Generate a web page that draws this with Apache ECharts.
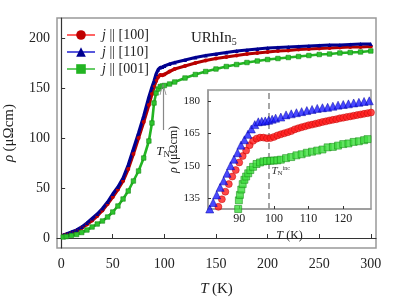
<!DOCTYPE html>
<html><head><meta charset="utf-8">
<script src="https://cdn.jsdelivr.net/npm/echarts@6/dist/echarts.min.js"></script>
<style>html,body{margin:0;padding:0;background:#fff}#c{width:395px;height:299px}</style>
</head><body><div id="c"></div>
<script>
// ---- main panel data ----
const mainT  = [2,5,10,15,20,25,30,35,40,45,50,55,60,65,70,75,80,85,88,90,92,94,96,98,100,105,110,120,130,140,150,160,170,180,190,200,210,220,230,240,250,260,270,280,290,300];
const rho100 = [2.5,3.5,5,7,10,13.5,17.5,22,27.5,34,41,48.5,57,69,84,100,116,133,144,151,157,161,163,162.8,163.5,166.5,169,172,175,177.5,179.5,181,182.5,184,185,186,187,187.5,188.5,189,189.5,190,190.5,191,191,191.5];
const rho110 = [3,4,6,8,11,15,19.5,24,29.5,36,44,51,60,73,89,105,122,141,151,157,164,168.5,170.5,171,172,174,175.5,178,180.5,182.5,184,185.5,187,188,189,190,190.5,191,191.5,192,192.5,193,193,193.5,194,194];
const rho001 = [1,1.5,2.5,3.5,5.5,8,11,14,17,21,26,32,39,47,57,67,80,97,115,135,145,149,151.5,152,152.5,154,156,160,163.5,166.5,169,171.5,173.5,175.5,177,178.5,179.5,180.5,181.5,182.5,183.5,184,185,185.5,186,187];
const mainXTicks = [0,50,100,150,200,250,300];
const mainYTicks = [0,50,100,150,200];

// ---- inset data ----
const inT110   = [81.5,82.5,83.5,84.5,85.5,86.5,87.5,88.5,89.5,90.5,91.5,92.5,93.5,94.5,95.5,96.5,97.5,98.5,99.5,100.5,102,103.5,105,106.5,108,109.5,111,112.5,114,115.5,117,118.5,120,121.5,123,124.5,126,127.5];
const inRho110 = [130,133,136.5,140,143,146.5,150,153,156,159.5,162,164.5,167,169,170.3,170.5,170.7,171,171.5,172,172.5,173.5,174,174.5,175,175.5,176,176.5,176.8,177,177.5,178,178.3,178.6,179,179.3,179.7,180];
const inT100   = [84,85,86,87,88,89,90,91,92,93,94,95,96,97,98,99,100,101,102,103,104,105,106,107,108,109,110,111,112,113,114,115,116,117,118,119,120,121,122,123,124,125,126,127,128];
const inRho100 = [131,134.5,138,141.5,145,148,151.5,154.5,157,159.5,161.5,162.5,163,163,162.7,162.8,163.3,164,164.5,165,165.5,166,166.8,167.3,167.8,168.2,168.7,169,169.4,169.8,170.2,170.5,170.9,171.2,171.5,171.9,172.2,172.5,172.8,173.1,173.4,173.7,174,174.3,174.6];
const inT001   = [89.7,89.9,90.2,90.6,91,91.5,92,92.6,93.2,94,95,96,97,98,99,100,101,102,103.5,105,106.5,108,109.5,111,112.5,114,115.5,117,118.5,120,121.5,123,124.5,126,127];
const inRho001 = [130,134,136.5,139,141.5,143.5,145,146.5,148,149.5,150.8,151.5,152,152.2,152.3,152.4,152.5,152.8,153.5,154,154.8,155.3,156,156.5,157,157.5,158.5,158.7,159.3,160,160.3,161,161.3,161.8,162.3];
const inXTicks = [90,100,110,120];
const inYTicks = [135,150,165,180];

// annotations (data units)
const tnArrow = [98.7, 108, 149];   // T, from rho, to rho
const tnIncT = 98.6;
const tnIncLabel = [99.3, 147.5];

const names = ['j || [100]','j || [110]','j || [001]'];
const FONT = 'Liberation Serif';
const pair = (xs, ys) => xs.map((x,i)=>[x, ys[i]]);

const chart = echarts.init(document.getElementById('c'), null, {renderer:'canvas'});
const axisLbl = (size)=>({fontFamily:FONT, fontSize:size, color:'#222'});
const subRich = {
  i:{fontFamily:FONT, fontStyle:'italic', fontSize:14, color:'#222'},
  n:{fontFamily:FONT, fontSize:14, color:'#222'}
};

chart.setOption({
  animation:false,
  backgroundColor:'#fff',
  title:{
    left:186, top:24,
    text:'{a|URhIn}{b|5}',
    textStyle:{fontWeight:'normal', rich:{a:{fontFamily:FONT,fontSize:15,fontWeight:'normal',color:'#222'},b:{fontFamily:FONT,fontSize:10,fontWeight:'normal',color:'#222',padding:[8,0,0,0]}}}
  },
  legend:{
    left:61, top:23, orient:'vertical', itemWidth:28, itemHeight:12, itemGap:3,
    data:[
      {name:names[0], lineStyle:{color:'#ff3030',width:1.5}, itemStyle:{color:'#c00000',borderWidth:0}},
      {name:names[1], lineStyle:{color:'#2020d0',width:1.5}, itemStyle:{color:'#000090',borderWidth:0}},
      {name:names[2], lineStyle:{color:'#66cc66',width:2}, itemStyle:{color:'#22b422',borderWidth:0}}
    ],
    formatter: n => '{i|j} {n|' + n.slice(2) + '}',
    textStyle:{rich:subRich, fontFamily:FONT, fontSize:14, padding:[0,0,0,2]}
  },
  grid:[
    {left:57, top:18, width:319, height:230, outerBoundsMode:'none', containLabel:false, show:true, borderColor:'#999', borderWidth:1.5, backgroundColor:'#fff'},
    {left:208, top:90, width:163, height:119, outerBoundsMode:'none', containLabel:false, show:true, borderColor:'#999', borderWidth:1.5, backgroundColor:'#fff', z:5}
  ],
  xAxis:[
    {gridIndex:0, type:'value', min:-4, max:305,
     name:'{i|T} {n|(K)}', nameLocation:'middle', nameGap:34,
     nameTextStyle:{rich:{i:{fontFamily:FONT,fontStyle:'italic',fontSize:15,color:'#222'},n:{fontFamily:FONT,fontSize:15,color:'#222'}}},
     axisLine:{show:true, lineStyle:{color:'#333',width:1.2}},
     axisTick:{show:true, inside:true, length:4, customValues:mainXTicks, lineStyle:{color:'#333'}},
     axisLabel:{customValues:mainXTicks, margin:9, ...axisLbl(14)},
     splitLine:{show:false}},
    {gridIndex:1, type:'value', min:81, max:128,
     name:'{i|T} {n|(K)}', nameLocation:'middle', nameGap:21,
     nameTextStyle:{rich:{i:{fontFamily:FONT,fontStyle:'italic',fontSize:12,color:'#222'},n:{fontFamily:FONT,fontSize:12,color:'#222'}}},
     axisLine:{show:true, lineStyle:{color:'#999',width:1.5}},
     axisTick:{show:true, inside:true, length:3, customValues:inXTicks, lineStyle:{color:'#333'}},
     axisLabel:{customValues:inXTicks, margin:4, ...axisLbl(12)},
     splitLine:{show:false}, z:6}
  ],
  yAxis:[
    {gridIndex:0, type:'value', min:-10, max:220,
     name:'{i|ρ} {n|(μΩcm)}', nameLocation:'middle', nameGap:40, nameRotate:90,
     nameTextStyle:{rich:{i:{fontFamily:FONT,fontStyle:'italic',fontSize:15,color:'#222'},n:{fontFamily:FONT,fontSize:15,color:'#222'}}},
     axisLine:{show:true, lineStyle:{color:'#333',width:1.2}},
     axisTick:{show:true, inside:true, length:4, customValues:mainYTicks, lineStyle:{color:'#333'}},
     axisLabel:{customValues:mainYTicks, margin:7, ...axisLbl(14)},
     splitLine:{show:false}},
    {gridIndex:1, type:'value', min:130, max:185,
     name:'{i|ρ} {n|(μΩcm)}', nameLocation:'middle', nameGap:23, nameRotate:90,
     nameTextStyle:{rich:{i:{fontFamily:FONT,fontStyle:'italic',fontSize:12,color:'#222'},n:{fontFamily:FONT,fontSize:12,color:'#222'}}},
     axisLine:{show:true, lineStyle:{color:'#999',width:1.5}},
     axisTick:{show:true, inside:true, length:3, customValues:inYTicks, lineStyle:{color:'#333'}},
     axisLabel:{customValues:inYTicks, margin:8, ...axisLbl(11)},
     splitLine:{show:false}, z:6}
  ],
  series:[
    {name:names[0], type:'line', xAxisIndex:0, yAxisIndex:0, data:pair(mainT,rho100),
     symbol:'circle', symbolSize:4, showAllSymbol:true,
     lineStyle:{color:'#b00000', width:3.2}, itemStyle:{color:'#c00000'}},
    {name:names[1], type:'line', xAxisIndex:0, yAxisIndex:0, data:pair(mainT,rho110),
     symbol:'triangle', symbolSize:4, showAllSymbol:true,
     lineStyle:{color:'#000090', width:3.2}, itemStyle:{color:'#000090'}},
    {name:names[2], type:'line', xAxisIndex:0, yAxisIndex:0, data:pair(mainT,rho001),
     symbol:'rect', symbolSize:4.5, showAllSymbol:true,
     lineStyle:{color:'#22b422', width:2.6}, itemStyle:{color:'#2ec42e', borderColor:'#178a17', borderWidth:0.6},
     markLine:{silent:true, symbol:['none','path://M5,0 L10,20 L8.8,20 L5,4 L1.2,20 L0,20 Z'], symbolSize:[7,12],
       lineStyle:{color:'#888', width:1.2, type:'solid'},
       label:{show:true, position:'start', distance:14,
         formatter:'{t|T}{s|N}',
         rich:{t:{fontFamily:FONT,fontStyle:'italic',fontSize:13,color:'#222'},s:{fontFamily:FONT,fontSize:9,color:'#222',padding:[6,0,0,0]}}},
       data:[[{coord:[tnArrow[0],tnArrow[1]]},{coord:[tnArrow[0],tnArrow[2]]}]]}},
    {name:names[0]+' inset', type:'scatter', xAxisIndex:1, yAxisIndex:1, data:pair(inT100,inRho100),
     symbol:'circle', symbolSize:7, z:7, itemStyle:{color:'#ff1a1a', borderColor:'#c00000', borderWidth:0.6},
     markLine:{silent:true, symbol:'none', lineStyle:{color:'#888', width:1.5, type:[6,4]}, label:{show:false},
       data:[{xAxis:tnIncT}]}},
    {name:names[1]+' inset', type:'scatter', xAxisIndex:1, yAxisIndex:1, data:pair(inT110,inRho110),
     symbol:'triangle', symbolSize:8, z:7, itemStyle:{color:'#1a1aff', borderColor:'#0000a0', borderWidth:0.6}},
    {name:names[2]+' inset', type:'scatter', xAxisIndex:1, yAxisIndex:1, data:pair(inT001,inRho001),
     symbol:'rect', symbolSize:7, z:7, itemStyle:{color:'#3ddd3d', borderColor:'#168c16', borderWidth:0.7},
     markPoint:{silent:true, symbol:'circle', symbolSize:0,
       label:{show:true, position:'right', distance:0, formatter:'{t|T}{s|N}{p|inc}',
         rich:{t:{fontFamily:FONT,fontStyle:'italic',fontSize:11,color:'#333'},s:{fontFamily:FONT,fontSize:7,color:'#333',padding:[5,0,0,0]},p:{fontFamily:FONT,fontSize:6,color:'#333',padding:[0,0,6,0]}}},
       data:[{coord:tnIncLabel}]}}
  ]
});
</script></body></html>
